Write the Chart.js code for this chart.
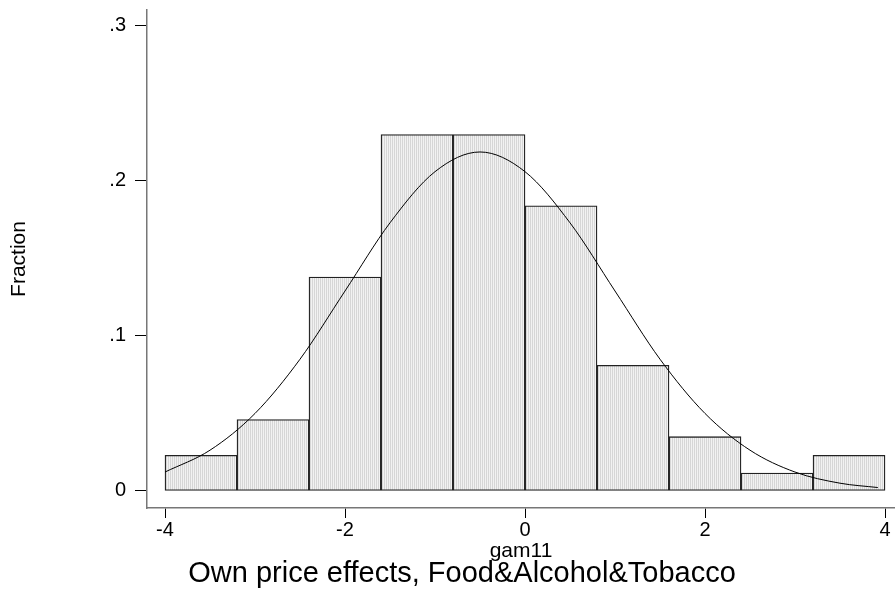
<!DOCTYPE html>
<html lang="en">
  <head>
    <meta charset="UTF-8" />
    <title>Own price effects histogram</title>
    <script src="https://cdn.jsdelivr.net/npm/chart.js"></script>
    <style>
      html,
      body {
        margin: 0;
        padding: 0;
        background: #fff;
      }
      #wrap {
        width: 895px;
        height: 596px;
      }
    </style>
  </head>
  <body>
    <div id="wrap"><canvas id="hist"></canvas></div>

    <script>
      // histogram bins (width 0.8), fraction of observations
      const binCenters = [-3.6, -2.8, -2.0, -1.2, -0.4, 0.4, 1.2, 2.0, 2.8, 3.6];
      const fractions = [0.023, 0.046, 0.138, 0.23, 0.23, 0.184, 0.081, 0.035, 0.0115, 0.023];

      // overlaid curve
      const curveX = [-4, -3.5, -3, -2.5, -2, -1.5, -1, -0.5, 0, 0.5, 1, 1.5, 2, 2.5, 3, 3.5, 3.92];
      const curveY = [0.0122, 0.0263, 0.05, 0.085, 0.129, 0.173, 0.206, 0.2187, 0.206, 0.173, 0.129, 0.085, 0.05, 0.0263, 0.0122, 0.005, 0.0022];

      const xTicks = [-4, -2, 0, 2, 4];
      const xTickLabels = ["-4", "-2", "0", "2", "4"];
      const yTicks = [0, 0.1, 0.2, 0.3];
      const yTickLabels = ["0", ".1", ".2", ".3"];

      const fontFamily = "'Liberation Sans', Arial, sans-serif";

      // fine vertical hatch used for the bars
      function makeHatch() {
        const c = document.createElement("canvas");
        c.width = 2;
        c.height = 1;
        const g = c.getContext("2d");
        g.fillStyle = "#f2f2f2";
        g.fillRect(0, 0, 2, 1);
        g.fillStyle = "#d6d6d6";
        g.fillRect(0, 0, 1, 1);
        return g.createPattern(c, "repeat");
      }

      // main caption under the axis title
      const captionPlugin = {
        id: "caption",
        afterDraw(chart) {
          const ctx = chart.ctx;
          ctx.save();
          ctx.font = "29px " + fontFamily;
          ctx.fillStyle = "#000";
          ctx.textAlign = "center";
          ctx.textBaseline = "alphabetic";
          ctx.fillText("Own price effects, Food&Alcohol&Tobacco", 462, 582);
          ctx.restore();
        },
      };

      const ctx = document.getElementById("hist").getContext("2d");

      new Chart(ctx, {
        data: {
          datasets: [
            {
              type: "line",
              data: curveX.map((x, i) => ({ x: x, y: curveY[i] })),
              borderColor: "#000",
              borderWidth: 1,
              pointRadius: 0,
              cubicInterpolationMode: "monotone",
              fill: false,
              order: 0,
            },
            {
              type: "bar",
              data: binCenters.map((x, i) => ({ x: x, y: fractions[i] })),
              backgroundColor: makeHatch(),
              borderColor: "#222",
              borderWidth: 1.3,
              borderSkipped: false,
              barPercentage: 1,
              categoryPercentage: 1,
              order: 1,
            },
          ],
        },
        options: {
          responsive: true,
          maintainAspectRatio: false,
          animation: false,
          layout: { padding: { top: 10, right: 0, bottom: 0, left: 0 } },
          plugins: {
            legend: { display: false },
            tooltip: { enabled: false },
          },
          scales: {
            x: {
              type: "linear",
              min: -4.2,
              max: 4.111,
              offset: false,
              afterFit(scale) {
                scale.height = 88;
                scale.paddingLeft = 0;
                scale.paddingRight = 0;
              },
              afterBuildTicks(scale) {
                scale.ticks = xTicks.map((v) => ({ value: v }));
              },
              ticks: {
                autoSkip: false,
                maxRotation: 0,
                padding: 0,
                color: "#000",
                font: { family: fontFamily, size: 20 },
                callback: (v, i) => xTickLabels[i],
              },
              grid: {
                offset: false,
                drawOnChartArea: false,
                tickLength: 10,
                tickColor: "#000",
                tickWidth: 1,
              },
              border: { display: true, color: "#777", width: 1.5 },
              title: {
                display: true,
                text: "gam11",
                color: "#000",
                font: { family: fontFamily, size: 21 },
                padding: { top: 0, bottom: 32 },
              },
            },
            y: {
              type: "linear",
              min: -0.011,
              max: 0.3103,
              afterFit(scale) {
                scale.width = 147;
                scale.paddingTop = 0;
                scale.paddingBottom = 0;
              },
              afterBuildTicks(scale) {
                scale.ticks = yTicks.map((v) => ({ value: v }));
              },
              ticks: {
                autoSkip: false,
                padding: 9,
                color: "#000",
                font: { family: fontFamily, size: 20 },
                callback: (v, i) => yTickLabels[i],
              },
              grid: {
                drawOnChartArea: false,
                tickLength: 12,
                tickColor: "#000",
                tickWidth: 1,
              },
              border: { display: true, color: "#777", width: 1.5 },
              title: {
                display: true,
                text: "Fraction",
                color: "#000",
                font: { family: fontFamily, size: 21 },
                padding: { top: 7, bottom: 0 },
              },
            },
          },
        },
        plugins: [captionPlugin],
      });
    </script>
  </body>
</html>
